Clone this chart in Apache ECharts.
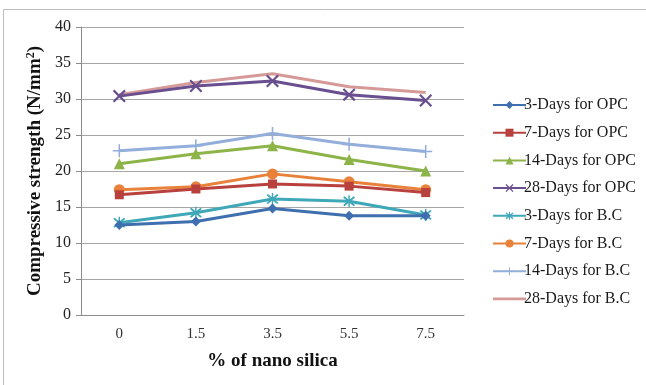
<!DOCTYPE html>
<html><head><meta charset="utf-8">
<script src="https://cdn.jsdelivr.net/npm/echarts@6/dist/echarts.min.js"></script>
<style>html,body{margin:0;padding:0;background:#fff}#c{width:646px;height:385px}</style>
</head><body><div id="c"></div>
<script>
const categories = ['0', '1.5', '3.5', '5.5', '7.5'];
const yTicks = [0, 5, 10, 15, 20, 25, 30, 35, 40];
const seriesNames = ['3-Days for OPC','7-Days for OPC','14-Days for OPC','28-Days for OPC','3-Days for B.C','7-Days for B.C','14-Days for B.C','28-Days for B.C'];
const opc3 = [12.5, 13.0, 14.8, 13.8, 13.8];
const opc7 = [16.7, 17.5, 18.2, 17.9, 17.0];
const opc14 = [21.0, 22.4, 23.5, 21.6, 20.0];
const opc28 = [30.4, 31.8, 32.5, 30.6, 29.8];
const bc3 = [12.8, 14.2, 16.1, 15.8, 13.9];
const bc7 = [17.4, 17.8, 19.6, 18.5, 17.4];
const bc14 = [22.8, 23.5, 25.2, 23.7, 22.7];
const bc28 = [30.6, 32.3, 33.5, 31.7, 30.9];
const values = [opc3, opc7, opc14, opc28, bc3, bc7, bc14, bc28];

const colors = ['#3F6FAF','#B8413E','#8DB449','#6A4F90','#3EA7B8','#E8823A','#93AEDA','#D59A98'];
const X = 'path://M0,1.2L1.2,0L10,8.8L8.8,10Z M8.8,0L10,1.2L1.2,10L0,8.8Z';
const PLUS = 'path://M4.4,0H5.6V10H4.4Z M0,4.4H10V5.6H0Z';
const STAR = 'path://M0,1.2L1.2,0L10,8.8L8.8,10Z M8.8,0L10,1.2L1.2,10L0,8.8Z M4.4,-1H5.6V11H4.4Z';
const LINEICON = 'path://M0,0H0.01V10H0Z M0,3.6H33V6.4H0Z';
const symbols = ['diamond','rect','triangle',X,STAR,'circle',PLUS,'none'];
const sizes = [10, 9, 11, 13, 12, 11, 13, 0];

const chart = echarts.init(document.getElementById('c'), null, {renderer:'canvas'});
const serif = '"Liberation Serif", "DejaVu Serif", serif';
chart.setOption({
  animation:false,
  backgroundColor:'#fff',
  graphic:[{type:'polyline', shape:{points:[[3.5,385],[3.5,9.5],[646,9.5]]}, style:{stroke:'#BDBDBD', lineWidth:1, fill:null}}],
  grid:{left:81, right:182, top:27, bottom:70},
  legend:{
    orient:'vertical', left:487, top:92, itemGap:11.7, itemWidth:33, itemHeight:10,
    data:seriesNames.map((n,i)=> i===7 ? {name:n, icon:LINEICON} : {name:n}),
    textStyle:{fontFamily:serif, fontSize:16, color:'#1a1a1a', padding:[0,0,0,-7]}
  },
  xAxis:{
    type:'category', data:categories, boundaryGap:true,
    axisLine:{lineStyle:{color:'#8C8C8C'}}, axisTick:{show:false},
    axisLabel:{fontFamily:serif, fontSize:15, color:'#333', margin:12},
    name:'% of nano silica', nameLocation:'middle', nameGap:37, nameMoveOverlap:false,
    nameTextStyle:{fontFamily:serif, fontSize:19, fontWeight:'bold', color:'#111'}
  },
  yAxis:{
    type:'value', min:yTicks[0], max:yTicks[yTicks.length-1], interval:5,
    axisLine:{show:true, lineStyle:{color:'#8C8C8C'}},
    axisTick:{show:true, length:5, lineStyle:{color:'#8C8C8C'}},
    splitLine:{lineStyle:{color:'#A6A6A6'}},
    axisLabel:{fontFamily:serif, fontSize:16, color:'#222', margin:10},
    name:'Compressive strength (N/mm{sup|2})', nameLocation:'middle', nameGap:35, nameMoveOverlap:false,
    nameTextStyle:{fontFamily:serif, fontSize:19, fontWeight:'bold', color:'#111',
      rich:{sup:{fontFamily:serif, fontSize:12, fontWeight:'bold', verticalAlign:'top', padding:[0,0,9,0]}}}
  },
  series: values.map((v,i)=>({
    name:seriesNames[i], type:'line', data:v,
    symbol:symbols[i], symbolSize:sizes[i], showSymbol:symbols[i]!=='none',
    lineStyle:{width:3, color:colors[i]},
    itemStyle:{color:colors[i]},
    z: 10 - i
  }))
});
</script></body></html>
